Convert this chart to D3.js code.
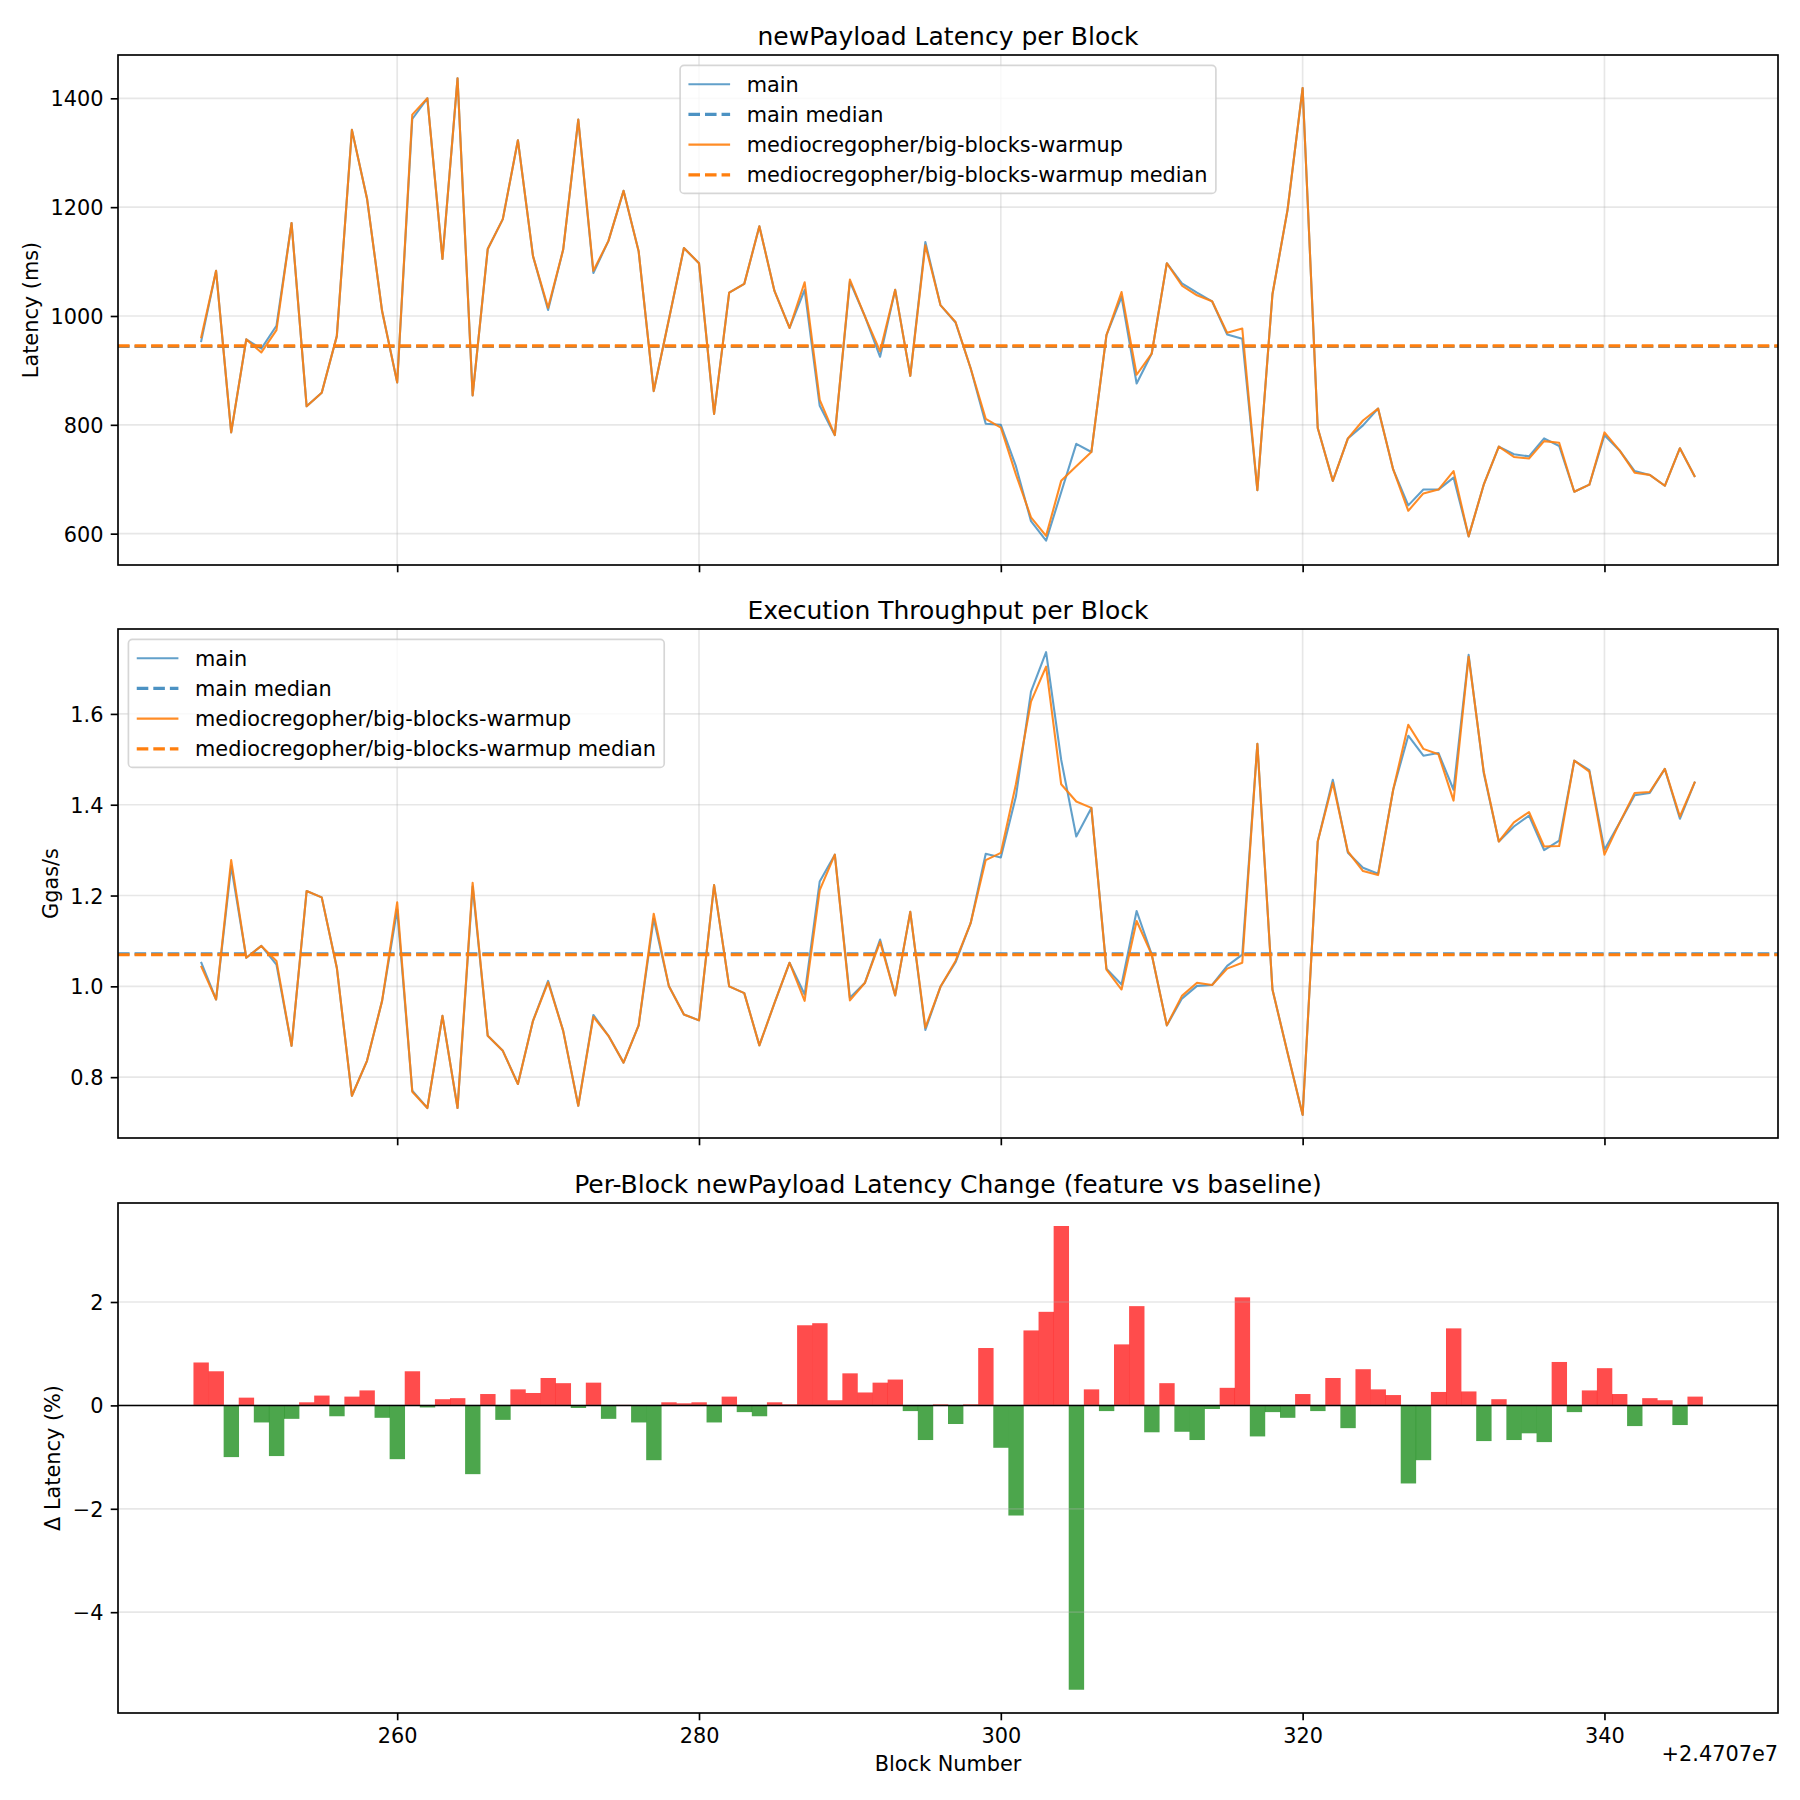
<!DOCTYPE html>
<html>
<head>
<meta charset="utf-8">
<script src="https://cdn.jsdelivr.net/npm/d3@7"></script>
<style>
  html, body { margin: 0; padding: 0; background: #ffffff; }
  svg { display: block; font-family: "DejaVu Sans", sans-serif; }
</style>
</head>
<body>
<svg id="chart" width="1800" height="1800"></svg>
<script>
// ---------------- DATA ----------------
const BLOCK_OFFSET_LABEL = "+2.4707e7";
const BLOCKS = [247,248,249,250,251,252,253,254,255,256,
  257,258,259,260,261,262,263,264,265,266,
  267,268,269,270,271,272,273,274,275,276,
  277,278,279,280,281,282,283,284,285,286,
  287,288,289,290,291,292,293,294,295,296,
  297,298,299,300,301,302,303,304,305,306,
  307,308,309,310,311,312,313,314,315,316,
  317,318,319,320,321,322,323,324,325,326,
  327,328,329,330,331,332,333,334,335,336,
  337,338,339,340,341,342,343,344,345,346];

const SERIES_NAMES = ["main", "mediocregopher/big-blocks-warmup"];

const MAIN_LATENCY = [952,1083,786,957,940,982,1171,834,859,963,
  1342,1216,1009,878,1362,1400,1105,1437,854,1123,
  1178,1323,1110,1011,1122,1361,1079,1138,1230,1119,
  862,993,1125,1097,820,1043,1059,1165,1046,978,
  1048,835,781,1063,999,925,1048,890,1136,1020,
  988,904,802,800,724,623,587,676,765,750,
  965,1035,876,931,1097,1060,1043,1027,966,958,
  680,1040,1195,1419,794,697,775,799,830,718,
  652,681,681,703,595,690,760,746,742,775,
  761,677,690,781,753,715,708,688,757,704];

const FEATURE_LATENCY = [959,1083,786,957,933,974,1171,834,859,963,
  1342,1216,1009,878,1370,1400,1105,1437,854,1123,
  1178,1323,1110,1015,1122,1361,1083,1138,1230,1119,
  862,993,1125,1097,820,1043,1059,1165,1046,978,
  1062,846,781,1067,999,935,1048,890,1130,1020,
  989,904,811,795,709,630,596,697,724,750,
  965,1044,892,931,1097,1056,1038,1027,969,977,
  680,1040,1195,1419,794,697,775,808,830,718,
  642,674,681,715,595,690,760,741,738,770,
  767,677,690,786,753,712,708,688,757,704];

const MAIN_THROUGHPUT = [1.054,0.971,1.265,1.063,1.089,1.048,0.869,1.210,1.196,1.041,
  0.759,0.836,0.968,1.169,0.770,0.732,0.935,0.732,1.220,0.891,
  0.858,0.785,0.924,1.012,0.902,0.737,0.937,0.891,0.832,0.914,
  1.149,1.001,0.938,0.925,1.223,1.000,0.985,0.870,0.963,1.052,
  0.982,1.231,1.290,0.975,1.008,1.103,0.980,1.164,0.904,0.999,
  1.053,1.139,1.292,1.284,1.418,1.649,1.736,1.499,1.330,1.393,
  1.039,1.004,1.166,1.070,0.914,0.973,1.001,1.003,1.045,1.070,
  1.534,0.993,0.854,0.717,1.319,1.455,1.294,1.261,1.248,1.433,
  1.552,1.508,1.514,1.433,1.730,1.470,1.319,1.352,1.376,1.300,
  1.321,1.497,1.476,1.301,1.360,1.421,1.426,1.479,1.369,1.451];

const FEATURE_THROUGHPUT = [1.045,0.971,1.278,1.063,1.089,1.056,0.869,1.210,1.196,1.041,
  0.759,0.836,0.968,1.185,0.768,0.732,0.935,0.732,1.228,0.891,
  0.858,0.785,0.924,1.009,0.902,0.737,0.933,0.891,0.832,0.914,
  1.160,1.001,0.938,0.925,1.223,1.000,0.985,0.870,0.963,1.052,
  0.968,1.212,1.290,0.969,1.008,1.098,0.980,1.164,0.909,0.999,
  1.056,1.139,1.278,1.294,1.445,1.627,1.704,1.445,1.407,1.393,
  1.037,0.993,1.144,1.070,0.914,0.979,1.008,1.003,1.039,1.052,
  1.534,0.993,0.854,0.717,1.319,1.448,1.297,1.254,1.245,1.433,
  1.576,1.523,1.511,1.409,1.726,1.473,1.319,1.361,1.384,1.308,
  1.309,1.497,1.473,1.290,1.360,1.426,1.428,1.479,1.374,1.451];

const LATENCY_CHANGE_PCT = [0.83,0.66,-1.00,0.15,-0.33,-0.98,-0.26,0.06,0.19,-0.21,
  0.17,0.29,-0.24,-1.04,0.66,-0.04,0.12,0.14,-1.33,0.22,
  -0.28,0.31,0.24,0.53,0.43,-0.05,0.44,-0.26,0.01,-0.33,
  -1.06,0.06,0.04,0.06,-0.33,0.17,-0.13,-0.21,0.06,0.02,
  1.55,1.59,0.10,0.62,0.25,0.44,0.50,-0.11,-0.67,0.02,
  -0.36,0.02,1.11,-0.82,-2.13,1.45,1.81,3.47,-5.50,0.31,
  -0.11,1.18,1.92,-0.52,0.43,-0.51,-0.67,-0.07,0.34,2.09,
  -0.60,-0.13,-0.24,0.22,-0.11,0.53,-0.44,0.70,0.31,0.20,
  -1.51,-1.06,0.26,1.49,0.27,-0.69,0.12,-0.67,-0.54,-0.71,
  0.84,-0.13,0.29,0.72,0.22,-0.40,0.14,0.10,-0.38,0.17];

const LATENCY_MEDIANS = [944, 945];
const THROUGHPUT_MEDIANS = [1.0715, 1.0696];

const X_TICKS = [260, 280, 300, 320, 340];
const LATENCY_TICKS = [600, 800, 1000, 1200, 1400];
const THROUGHPUT_TICKS = [0.8, 1.0, 1.2, 1.4, 1.6];
const CHANGE_TICKS = [-4, -2, 0, 2];

const TITLES = ["newPayload Latency per Block", "Execution Throughput per Block",
  "Per-Block newPayload Latency Change (feature vs baseline)"];
const Y_LABELS = ["Latency (ms)", "Ggas/s", "\u0394 Latency (%)"];
const X_LABEL = "Block Number";

// ---------------- LAYOUT ----------------
const PT = 150 / 72;
const FS = 10 * PT;          // 20.83px
const TITLE_FS = 12 * PT;    // 25px
const LEFT = 118, RIGHT = 1778;
const PANELS = [{top: 55, bottom: 565}, {top: 629, bottom: 1138}, {top: 1203, bottom: 1713}];
const COLORS = ["#1f77b4", "#ff7f0e"];
const OPAC = [0.7, 0.9];
const MED_OPAC = [0.8, 1.0];
const DASH = `${3.7 * 1.5 * PT},${1.6 * 1.5 * PT}`;

const svg = d3.select("#chart");
svg.append("rect").attr("width", 1800).attr("height", 1800).attr("fill", "#fff");

const x = d3.scaleLinear().domain([241.5, 351.5]).range([LEFT, RIGHT]);

function minus(s) { return String(s).replace("-", "\u2212"); }

function makeAxes(i, yDomain, yTicks, yFmt, showX, vGrid) {
  const p = PANELS[i];
  const y = d3.scaleLinear().domain(yDomain).range([p.bottom, p.top]);
  const g = svg.append("g");
  const grid = g.append("g").attr("class", "grid");
  if (vGrid) {
    grid.selectAll("line.v").data(X_TICKS).join("line")
      .attr("x1", d => x(d)).attr("x2", d => x(d))
      .attr("y1", p.top).attr("y2", p.bottom)
      .attr("stroke", "#b0b0b0").attr("stroke-opacity", 0.3).attr("stroke-width", 0.8 * PT);
  }
  grid.selectAll("line.h").data(yTicks).join("line")
    .attr("x1", LEFT).attr("x2", RIGHT)
    .attr("y1", d => y(d)).attr("y2", d => y(d))
    .attr("stroke", "#b0b0b0").attr("stroke-opacity", 0.3).attr("stroke-width", 0.8 * PT);
  return {y, g, grid, p, yTicks, yFmt, showX};
}

function finishAxes(ax, i) {
  const {y, p, yTicks, yFmt, showX} = ax;
  const fg = svg.append("g");
  const ya = fg.append("g").attr("transform", `translate(${LEFT},0)`)
    .call(d3.axisLeft(y).tickValues(yTicks).tickFormat(d => minus(yFmt(d)))
      .tickSize(3.5 * PT).tickPadding(3.5 * PT));
  ya.select(".domain").remove();
  ya.selectAll(".tick line").attr("stroke", "#000").attr("stroke-width", 0.8 * PT);
  ya.selectAll(".tick text").attr("font-size", FS).attr("fill", "#000")
    .attr("font-family", "DejaVu Sans").attr("dy", "0.36em");
  const xa = fg.append("g").attr("transform", `translate(0,${p.bottom})`)
    .call(d3.axisBottom(x).tickValues(X_TICKS).tickFormat(d => showX ? d : "")
      .tickSize(3.5 * PT).tickPadding(3.5 * PT));
  xa.select(".domain").remove();
  xa.selectAll(".tick line").attr("stroke", "#000").attr("stroke-width", 0.8 * PT);
  xa.selectAll(".tick text").attr("font-size", FS).attr("fill", "#000")
    .attr("font-family", "DejaVu Sans").attr("dy", "0.73em");
  fg.append("rect").attr("x", LEFT).attr("y", p.top)
    .attr("width", RIGHT - LEFT).attr("height", p.bottom - p.top)
    .attr("fill", "none").attr("stroke", "#000").attr("stroke-width", 0.8 * PT);
  fg.append("text").attr("x", (LEFT + RIGHT) / 2).attr("y", p.top - 6 * PT + 2)
    .attr("text-anchor", "middle").attr("font-size", TITLE_FS).attr("fill", "#000")
    .text(TITLES[i]);
  let minX = LEFT;
  ya.selectAll(".tick text").each(function() {
    const b = this.getBBox();
    const ctm = this.getCTM();
    minX = Math.min(minX, b.x + ctm.e);
  });
  const cy = (p.top + p.bottom) / 2;
  const lx = minX - 4 * PT - 4;
  fg.append("text").attr("transform", `translate(${lx},${cy}) rotate(-90)`)
    .attr("text-anchor", "middle").attr("font-size", FS).attr("fill", "#000")
    .text(Y_LABELS[i]);
  return fg;
}

function legend(ax, mode) {
  const {p} = ax;
  const labels = [SERIES_NAMES[0], SERIES_NAMES[0] + " median", SERIES_NAMES[1], SERIES_NAMES[1] + " median"];
  const lg = svg.append("g");
  const box = lg.append("rect");
  const texts = [];
  labels.forEach((t, k) => {
    texts.push(lg.append("text").attr("font-size", FS).attr("fill", "#000").text(t));
  });
  let maxW = 0;
  texts.forEach(t => { maxW = Math.max(maxW, t.node().getComputedTextLength()); });
  const pad = 0.4 * FS, hl = 2 * FS, htp = 0.8 * FS;
  const w = pad + hl + htp + maxW + pad;
  const h = 128;
  const bx = mode === "center" ? (LEFT + RIGHT) / 2 - w / 2 : LEFT + 0.5 * FS;
  const by = p.top + 0.5 * FS;
  box.attr("x", bx).attr("y", by).attr("width", w).attr("height", h)
    .attr("rx", 4).attr("fill", "#fff").attr("fill-opacity", 0.8)
    .attr("stroke", "#cccccc").attr("stroke-opacity", 0.8).attr("stroke-width", 1.0 * PT * 0.8);
  const rowY = k => by + 18.8 + k * 30.2;
  texts.forEach((t, k) => {
    t.attr("x", bx + pad + hl + htp).attr("y", rowY(k) + 7.4);
    const ci = k < 2 ? 0 : 1;
    const dashed = k % 2 === 1;
    lg.append("line").attr("x1", bx + pad).attr("x2", bx + pad + hl)
      .attr("y1", rowY(k)).attr("y2", rowY(k))
      .attr("stroke", COLORS[ci]).attr("stroke-opacity", dashed ? MED_OPAC[ci] : OPAC[ci])
      .attr("stroke-width", dashed ? 1.5 * PT : 1 * PT)
      .attr("stroke-dasharray", dashed ? DASH : null);
  });
}

function linePanel(i, mainVals, featVals, medians, yDomain, yTicks, yFmt, legendMode) {
  const ax = makeAxes(i, yDomain, yTicks, yFmt, false, true);
  const {y, g} = ax;
  const line = d3.line().x((d, k) => x(BLOCKS[k])).y(d => y(d));
  const series = [mainVals, featVals];
  series.forEach((vals, s) => {
    g.append("path").datum(vals).attr("d", line).attr("fill", "none")
      .attr("stroke", COLORS[s]).attr("stroke-opacity", OPAC[s])
      .attr("stroke-width", 1 * PT).attr("stroke-linejoin", "round");
    g.append("line").attr("x1", LEFT).attr("x2", RIGHT)
      .attr("y1", y(medians[s])).attr("y2", y(medians[s]))
      .attr("stroke", COLORS[s]).attr("stroke-opacity", MED_OPAC[s])
      .attr("stroke-width", 1.5 * PT).attr("stroke-dasharray", DASH);
  });
  finishAxes(ax, i);
  legend(ax, legendMode);
}

linePanel(0, MAIN_LATENCY, FEATURE_LATENCY, LATENCY_MEDIANS, [542.4, 1479.6],
  LATENCY_TICKS, d => d3.format("d")(d), "center");
linePanel(1, MAIN_THROUGHPUT, FEATURE_THROUGHPUT, THROUGHPUT_MEDIANS, [0.666, 1.787],
  THROUGHPUT_TICKS, d => d3.format(".1f")(d), "left");

(function() {
  const ax = makeAxes(2, [-5.95, 3.915], CHANGE_TICKS, d => d3.format("d")(d), true, false);
  const {y, g} = ax;
  const bars = g.insert("g", ".grid");
  bars.selectAll("rect").data(LATENCY_CHANGE_PCT).join("rect")
    .attr("x", (d, k) => x(BLOCKS[k] - 0.5))
    .attr("width", (d, k) => x(BLOCKS[k] + 0.5) - x(BLOCKS[k] - 0.5) + 0.3)
    .attr("y", d => Math.min(y(0), y(d)))
    .attr("height", d => Math.abs(y(d) - y(0)))
    .attr("fill", d => d >= 0 ? "#ff0000" : "#008000").attr("fill-opacity", 0.7);
  g.append("line").attr("x1", LEFT).attr("x2", RIGHT).attr("y1", y(0)).attr("y2", y(0))
    .attr("stroke", "#000").attr("stroke-width", 0.8 * PT * 0.9);
  const fg = finishAxes(ax, 2);
  fg.append("text").attr("x", (LEFT + RIGHT) / 2).attr("y", 1771)
    .attr("text-anchor", "middle").attr("font-size", FS).attr("fill", "#000").text(X_LABEL);
  fg.append("text").attr("x", RIGHT).attr("y", 1761)
    .attr("text-anchor", "end").attr("font-size", FS).attr("fill", "#000").text(BLOCK_OFFSET_LABEL);
})();
</script>
</body>
</html>
